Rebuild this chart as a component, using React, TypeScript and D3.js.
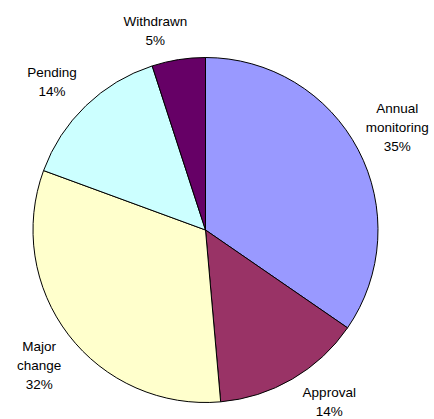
import React, { useRef, useEffect } from 'react';
import * as d3 from 'd3';

// slice data (percent of total)
const categories = ['Annual monitoring', 'Approval', 'Major change', 'Pending', 'Withdrawn'];
const shares = [34.6, 14.0, 32.0, 14.4, 5.0];
const colors = ['#9999FF', '#993366', '#FFFFCC', '#CCFFFF', '#660066'];

// label lines as shown in the chart
const labelLines = [
  ['Annual', 'monitoring'],
  ['Approval'],
  ['Major', 'change'],
  ['Pending'],
  ['Withdrawn'],
];

// small tweaks to mimic where the spreadsheet put the labels
const labelNudge = [[4, -4], [17, -11.5], [2, 6.5], [-6.5, 4.7], [-17, 10]];

const W = 434;
const H = 419;

const App = () => {
  const svgRef = useRef<SVGSVGElement>(null);

  useEffect(() => {
    const svg = d3.select(svgRef.current);
    svg.selectAll('*').remove();

    const cx = 205.5;
    const cy = 230;
    const radius = 172.5;
    const labelRadius = 212;
    const fontSize = 13.5;
    const lineH = 18.7;

    const data = categories.map((c, i) => ({ name: c, value: shares[i], idx: i }));

    const pie = d3.pie<any>()
      .sort(null)
      .value(d => d.value);

    const arc = d3.arc<any>()
      .innerRadius(0)
      .outerRadius(radius);

    const labelArc = d3.arc<any>()
      .innerRadius(labelRadius)
      .outerRadius(labelRadius);

    const g = svg.append('g')
      .attr('transform', `translate(${cx},${cy})`);

    const arcs = pie(data);

    g.selectAll('path.slice')
      .data(arcs)
      .enter()
      .append('path')
      .attr('class', 'slice')
      .attr('d', arc)
      .attr('fill', d => colors[d.data.idx])
      .attr('stroke', '#000')
      .attr('stroke-width', 1)
      .attr('stroke-linejoin', 'round');

    arcs.forEach(a => {
      const i = a.data.idx;
      const [lx, ly] = labelArc.centroid(a);
      const lines = [...labelLines[i], `${Math.round(shares[i])}%`];
      const x = lx + labelNudge[i][0];
      const yMid = ly + labelNudge[i][1];
      const y0 = yMid - ((lines.length - 1) * lineH) / 2 + fontSize * 0.35;

      const t = g.append('text')
        .attr('text-anchor', 'middle')
        .attr('font-family', '"Liberation Sans", Arial, sans-serif')
        .attr('font-size', fontSize)
        .attr('fill', '#000');

      lines.forEach((ln, k) => {
        t.append('tspan')
          .attr('x', x)
          .attr('y', y0 + k * lineH)
          .text(ln);
      });
    });
  }, []);

  return (
    <svg
      ref={svgRef}
      width={W}
      height={H}
      style={{ position: 'absolute', left: 0, top: 0, display: 'block', background: '#fff' }}
    ></svg>
  );
};

export default App;
